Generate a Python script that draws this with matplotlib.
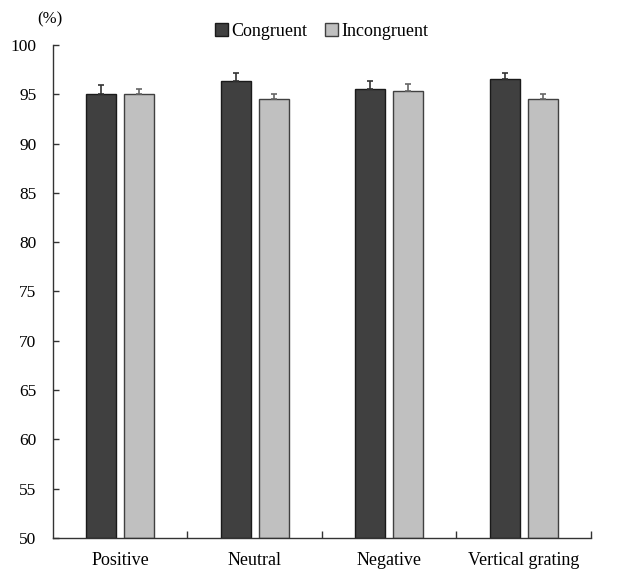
import numpy as np
import matplotlib
matplotlib.use('Agg')
import matplotlib.pyplot as plt

plt.rcParams['font.family'] = ['Liberation Serif', 'DejaVu Serif']

categories = ['Positive', 'Neutral', 'Negative', 'Vertical grating']
congruent = [95.06, 96.35, 95.54, 96.55]
incongruent = [95.06, 94.49, 95.37, 94.49]
congruent_err = [0.88, 0.81, 0.81, 0.61]
incongruent_err = [0.51, 0.57, 0.67, 0.57]
yticks = [50, 55, 60, 65, 70, 75, 80, 85, 90, 95, 100]

fig = plt.figure(figsize=(6.23, 5.82), dpi=100)
ax = fig.add_axes([0.085, 0.0756, 0.8636, 0.8471])

x = np.arange(len(categories))
w = 0.222
off = 0.141

ax.bar(x - off, [v - 50 for v in congruent], w, bottom=50, color='#404040',
       edgecolor='#1a1a1a', linewidth=1, label='Congruent', zorder=2)
ax.bar(x + off, [v - 50 for v in incongruent], w, bottom=50, color='#c0c0c0',
       edgecolor='#404040', linewidth=1, label='Incongruent', zorder=2)
ax.errorbar(x - off, congruent, yerr=[[0] * 4, congruent_err], fmt='none',
            ecolor='#333333', elinewidth=1.2, capsize=2.5, capthick=1.2, zorder=3)
ax.errorbar(x + off, incongruent, yerr=[[0] * 4, incongruent_err], fmt='none',
            ecolor='#666666', elinewidth=1.2, capsize=2.5, capthick=1.2, zorder=3)

ax.set_xlim(-0.5, len(categories) - 0.5)
ax.set_ylim(50, 100)
ax.set_yticks(yticks)
ax.set_yticklabels([str(t) for t in yticks], fontsize=12.5)
ax.tick_params(axis='y', direction='in', length=4, width=1, color='#333333', pad=12)

# category boundary ticks on the x axis
ax.set_xticks(np.arange(0.5, len(categories), 1))
ax.set_xticklabels([])
ax.tick_params(axis='x', direction='in', length=5, width=1, color='#333333')
for i, c in enumerate(categories):
    ax.text(i, 47.75, c, ha='center', va='center', fontsize=13)

for s in ['top', 'right']:
    ax.spines[s].set_visible(False)
for s in ['left', 'bottom']:
    ax.spines[s].set_color('#333333')
    ax.spines[s].set_linewidth(1)

ax.text(-0.52, 102.6, '(%)', ha='center', va='center', fontsize=12)

ax.legend(loc='upper center', bbox_to_anchor=(0.5, 1.078), ncol=2, frameon=False,
          fontsize=13, handlelength=0.7, handleheight=0.7, handletextpad=0.2,
          columnspacing=1.0)

fig.savefig('out.png', dpi=100)
